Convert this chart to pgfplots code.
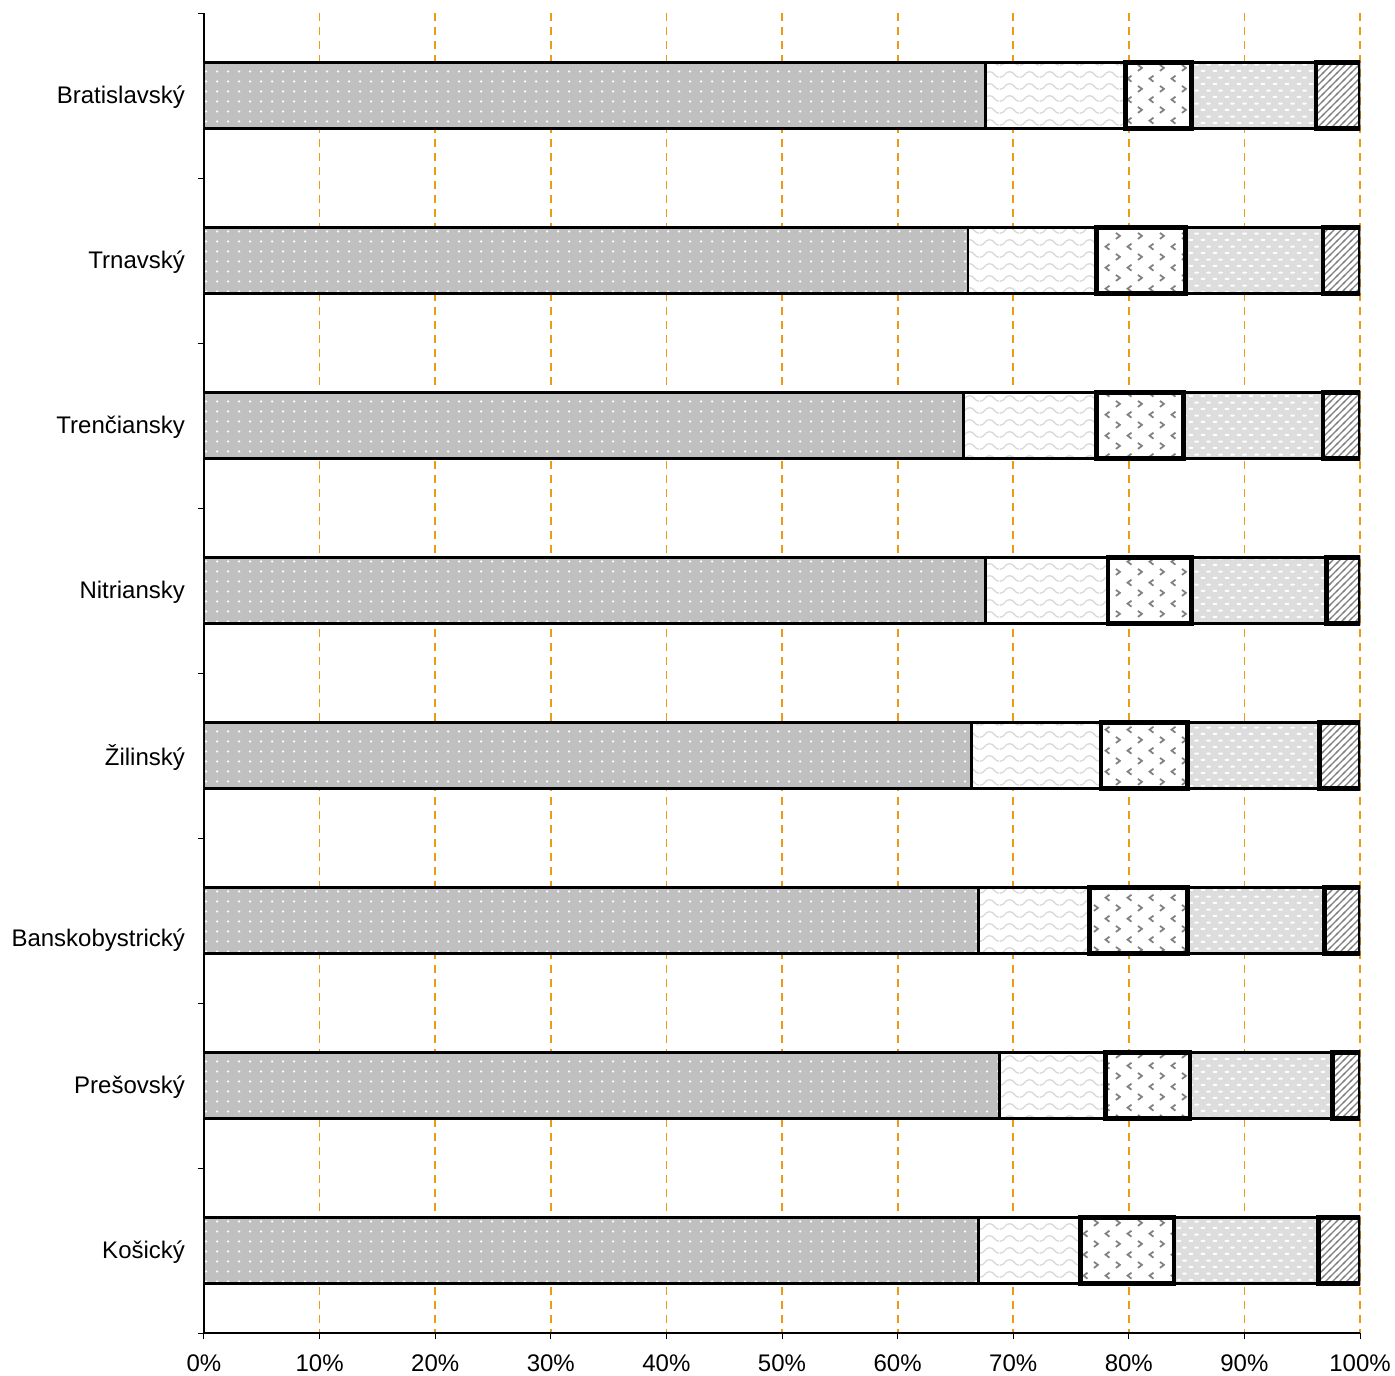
\documentclass[border=0pt]{standalone}
\usepackage{fontspec}
\setmainfont{Liberation Sans}
\usepackage{pgfplots}
\usepackage{pgfplotstable}
\pgfplotsset{compat=1.18}
\usetikzlibrary{patterns}

\definecolor{segA}{RGB}{192,192,192}
\definecolor{segD}{RGB}{221,221,221}
\definecolor{gridor}{RGB}{236,156,20}

\pgfdeclarepatternformonly{mydots}{\pgfqpoint{0pt}{0pt}}{\pgfqpoint{5.3pt}{5pt}}{\pgfqpoint{5.3pt}{5pt}}{%
  \pgfpathcircle{\pgfqpoint{2.65pt}{2.5pt}}{0.7pt}\pgfusepath{fill}}
\pgfdeclarepatternformonly{mywaves}{\pgfqpoint{0pt}{0pt}}{\pgfqpoint{10pt}{6pt}}{\pgfqpoint{10pt}{6pt}}{%
  \pgfsetlinewidth{0.7pt}
  \pgfpathmoveto{\pgfqpoint{0pt}{1.5pt}}
  \pgfpathcurveto{\pgfqpoint{2.5pt}{1.5pt}}{\pgfqpoint{2.5pt}{4.5pt}}{\pgfqpoint{5pt}{4.5pt}}
  \pgfpathcurveto{\pgfqpoint{7.5pt}{4.5pt}}{\pgfqpoint{7.5pt}{1.5pt}}{\pgfqpoint{10pt}{1.5pt}}
  \pgfusepath{stroke}}
\pgfdeclarepatternformonly{mychevrons}{\pgfqpoint{0pt}{0pt}}{\pgfqpoint{10.8pt}{10.6pt}}{\pgfqpoint{10.8pt}{10.6pt}}{%
  \pgfsetlinewidth{0.9pt}
  \pgfpathmoveto{\pgfqpoint{3.8pt}{9.5pt}}
  \pgfpathlineto{\pgfqpoint{1.8pt}{7.95pt}}
  \pgfpathlineto{\pgfqpoint{3.8pt}{6.4pt}}
  \pgfpathmoveto{\pgfqpoint{7.1pt}{4.2pt}}
  \pgfpathlineto{\pgfqpoint{9.1pt}{2.65pt}}
  \pgfpathlineto{\pgfqpoint{7.1pt}{1.1pt}}
  \pgfusepath{stroke}}
\pgfdeclarepatternformonly{mydashes}{\pgfqpoint{0pt}{0pt}}{\pgfqpoint{6pt}{6.6pt}}{\pgfqpoint{6pt}{6.6pt}}{%
  \pgfsetlinewidth{1pt}
  \pgfsetroundcap
  \pgfpathmoveto{\pgfqpoint{0.8pt}{1.65pt}}
  \pgfpathlineto{\pgfqpoint{2.4pt}{1.65pt}}
  \pgfpathmoveto{\pgfqpoint{3.8pt}{4.95pt}}
  \pgfpathlineto{\pgfqpoint{5.4pt}{4.95pt}}
  \pgfusepath{stroke}}
\pgfdeclarepatternformonly{mydiag}{\pgfqpoint{-1pt}{-1pt}}{\pgfqpoint{4.5pt}{4.5pt}}{\pgfqpoint{3.5pt}{3.5pt}}{%
  \pgfsetlinewidth{0.6pt}
  \pgfpathmoveto{\pgfqpoint{-0.5pt}{-0.5pt}}
  \pgfpathlineto{\pgfqpoint{4pt}{4pt}}
  \pgfusepath{stroke}}

\pgfplotstableread{
idx s1 s2 s3 s4 s5
0 67.6 12.1 5.7 10.8 3.8
1 66.1 11.1 7.7 11.9 3.2
2 65.7 11.5 7.5 12.1 3.2
3 67.6 10.6 7.2 11.7 2.9
4 66.4 11.2 7.5 11.4 3.5
5 67.0 9.6 8.5 11.8 3.1
6 68.8 9.2 7.3 12.3 2.4
7 67.0 8.8 8.1 12.5 3.6
}\datatable

\pgfplotsset{common/.style={
  scale only axis, width=578pt, height=660pt,
  xmin=0, xmax=100, ymin=-0.5, ymax=7.5, y dir=reverse,
  xbar stacked, bar width=33pt,
}}

\begin{document}
\begin{tikzpicture}
\begin{axis}[common,
  axis x line*=bottom, axis y line*=left,
  axis line style={black, line width=0.6pt},
  tick align=outside,
  major tick length=0pt, minor tick length=3.2pt,
  minor tick style={black, line width=0.5pt},
  xtick={0,10,...,100},
  minor xtick={0,10,...,100},
  xticklabel={\pgfmathprintnumber{\tick}\%},
  /pgf/number format/assume math mode=true,
  ytick={0,...,7},
  minor ytick={-0.5,0.5,...,7.5},
  yticklabels={Bratislavský,Trnavský,Trenčiansky,Nitriansky,Žilinský,{\raisebox{-9pt}[8pt][2pt]{Banskobystrický}},Prešovský,Košický},
  tick label style={font=\fontsize{12}{14}\selectfont, black},
  yticklabel style={xshift=-6pt, yshift=-1pt},
  xticklabel style={yshift=-7.5pt},
  xmajorgrids,
  major grid style={color=gridor, line width=0.9pt, dash pattern=on 4pt off 3pt},
]
\addplot[draw=black, line width=1.2pt, fill=segA, postaction={pattern=mydots, pattern color=white}] table[x=s1, y=idx]{\datatable};
\addplot[draw=black, line width=1.2pt, fill=white, postaction={pattern=mywaves, pattern color=black!15}] table[x=s2, y=idx]{\datatable};
\addplot[draw=black, line width=1.2pt, fill=white, postaction={pattern=mychevrons, pattern color=black!50}] table[x=s3, y=idx]{\datatable};
\addplot[draw=black, line width=1.2pt, fill=segD, postaction={pattern=mydashes, pattern color=white}] table[x=s4, y=idx]{\datatable};
\addplot[draw=black, line width=1.2pt, fill=white, postaction={pattern=mydiag, pattern color=black!50}] table[x=s5, y=idx]{\datatable};
\end{axis}
\begin{axis}[common, hide axis]
\addplot[draw=none, fill=none] table[x=s1, y=idx]{\datatable};
\addplot[draw=none, fill=none] table[x=s2, y=idx]{\datatable};
\addplot[draw=black, line width=2.4pt, fill=none] table[x=s3, y=idx]{\datatable};
\addplot[draw=none, fill=none] table[x=s4, y=idx]{\datatable};
\addplot[draw=black, line width=2.4pt, fill=none] table[x=s5, y=idx]{\datatable};
\end{axis}
\pgfresetboundingbox
\path (current axis.south west) ++(-102pt,-21pt) coordinate (bbA);
\path (current axis.north east) ++(17.5pt,6.5pt) coordinate (bbB);
\useasboundingbox (bbA) rectangle (bbB);
\end{tikzpicture}
\end{document}
